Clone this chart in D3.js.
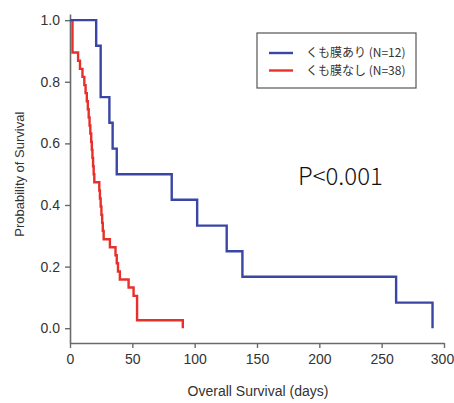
<!DOCTYPE html>
<html>
<head>
<meta charset="utf-8">
<script src="https://cdn.jsdelivr.net/npm/d3@7/dist/d3.min.js"></script>
<style>
  html, body { margin: 0; padding: 0; background: #fff; }
  svg { display: block; }
</style>
</head>
<body>
<svg id="chart" width="454" height="403"></svg>
<script>
// Kaplan–Meier step data: event day and survival probability after that event
const groupLabels = ["くも膜あり (N=12)", "くも膜なし (N=38)"];
const groupColors = ["#3a46a6", "#e8302b"];

const withDays = [0, 21, 24.6, 31.6, 34.2, 37.5, 81.6, 102, 125.7, 138.3, 261.6, 290.8];
const withSurv = [1, 0.917, 0.75, 0.667, 0.583, 0.5, 0.417, 0.333, 0.25, 0.167, 0.083, 0];

const withoutDays = [0, 2, 6.5, 8, 10, 11.5, 12.5, 13.5, 14.3, 15, 15.7, 16.3, 17, 17.5, 18, 18.5, 19, 19.5,
  23.5, 24, 24.6, 25.2, 25.8, 26.3, 27, 32, 36.5, 37.5, 38.5, 40, 47, 51, 53.8, 90.5];
const withoutSurv = [1, 0.895, 0.868, 0.842, 0.816, 0.789, 0.763, 0.737, 0.711, 0.684, 0.658, 0.632, 0.605, 0.579,
  0.553, 0.526, 0.5, 0.474, 0.447, 0.421, 0.395, 0.368, 0.342, 0.316, 0.289, 0.263, 0.237, 0.211, 0.184,
  0.158, 0.132, 0.105, 0.026, 0];

const xTicks = [0, 50, 100, 150, 200, 250, 300];
const yTicks = [0, 0.2, 0.4, 0.6, 0.8, 1.0];
const pValueText = "P<0.001";

const svg = d3.select("#chart");

const x = d3.scaleLinear().domain([0, 300]).range([70, 444]);
const y = d3.scaleLinear().domain([-0.048, 1.02]).range([343, 14]);

const axisColor = "#6a6a6a";
const labelFont = "'Liberation Sans', Arial, sans-serif";

// Axes
const xAxis = svg.append("g")
  .attr("transform", `translate(0,${y.range()[0]})`)
  .call(d3.axisBottom(x).tickValues(xTicks).tickSize(5).tickSizeOuter(0).tickPadding(6));

const yAxis = svg.append("g")
  .attr("transform", `translate(${x.range()[0]},0)`)
  .call(d3.axisLeft(y).tickValues(yTicks).tickFormat(d3.format(".1f")).tickSize(5).tickSizeOuter(0).tickPadding(5));

[xAxis, yAxis].forEach(g => {
  g.select(".domain").attr("stroke", axisColor).attr("stroke-width", 1.6);
  g.selectAll(".tick line").attr("stroke", axisColor).attr("stroke-width", 1.4);
  g.selectAll(".tick text")
    .attr("fill", "#333")
    .style("font-family", labelFont)
    .style("font-size", "14px");
});

// keep the last x label inside the right edge
xAxis.selectAll(".tick text").filter(d => d === 300).attr("dx", "-2");

// Axis titles
svg.append("text")
  .attr("x", 258).attr("y", 396)
  .attr("text-anchor", "middle")
  .attr("fill", "#333")
  .style("font-family", labelFont)
  .style("font-size", "14px")
  .text("Overall Survival (days)");

svg.append("text")
  .attr("transform", `translate(24,${(y(0) + y(1)) / 2}) rotate(-90)`)
  .attr("text-anchor", "middle")
  .attr("fill", "#333")
  .style("font-family", labelFont)
  .style("font-size", "13px")
  .text("Probability of Survival");

// Survival curves drawn as step-after lines
const stepLine = d3.line()
  .x(d => x(d[0]))
  .y(d => y(d[1]))
  .curve(d3.curveStepAfter);

const series = [
  d3.zip(withoutDays, withoutSurv),
  d3.zip(withDays, withSurv)
];
const seriesColors = [groupColors[1], groupColors[0]];

series.forEach((pts, i) => {
  svg.append("path")
    .datum(pts)
    .attr("fill", "none")
    .attr("stroke", seriesColors[i])
    .attr("stroke-width", 2.4)
    .attr("stroke-linejoin", "miter")
    .attr("d", stepLine);
});

// Legend
const legend = svg.append("g").attr("transform", "translate(257,33)");
legend.append("rect")
  .attr("width", 159).attr("height", 55)
  .attr("fill", "#fff")
  .attr("stroke", "#555").attr("stroke-width", 1.2);

groupLabels.forEach((label, i) => {
  const ly = 20 + i * 17.5;
  legend.append("line")
    .attr("x1", 12).attr("x2", 36)
    .attr("y1", ly).attr("y2", ly)
    .attr("stroke", groupColors[i]).attr("stroke-width", 2.4);
  legend.append("text")
    .attr("x", 49).attr("y", ly)
    .attr("dy", "0.35em")
    .attr("fill", "#333")
    .style("font-family", "'Noto Sans CJK JP', sans-serif")
    .style("font-size", "12px")
    .text(label);
});

// p-value annotation
svg.append("text")
  .attr("x", 298).attr("y", 185)
  .attr("fill", "#111")
  .style("font-family", "'Noto Sans CJK JP', sans-serif")
  .style("font-weight", "300")
  .style("font-size", "24px")
  .text(pValueText);
</script>
</body>
</html>
